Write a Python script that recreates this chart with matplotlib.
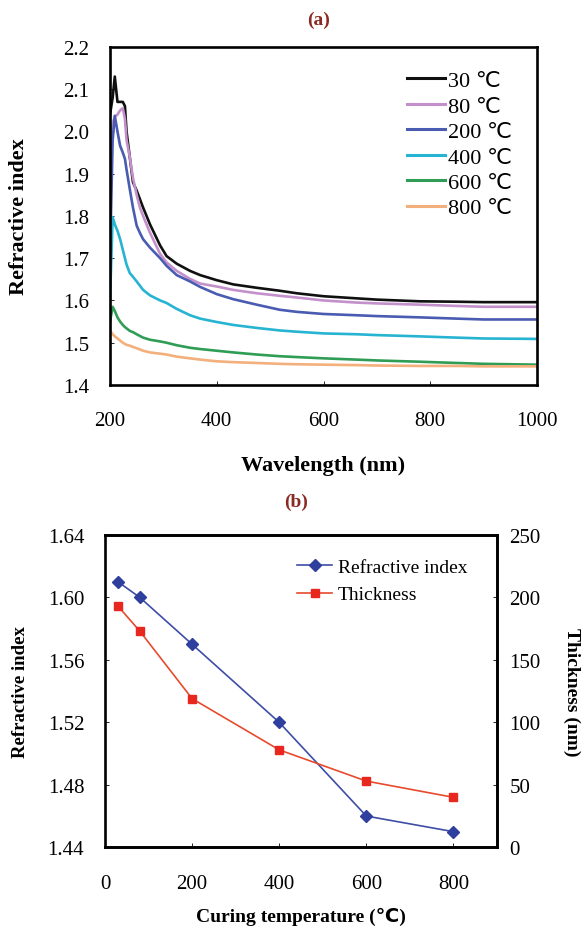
import matplotlib
matplotlib.use("Agg")
import matplotlib.pyplot as plt


# ============================================
# Refractive index of films vs. wavelength (a)
# and curing temperature effect (b)
# ============================================

# --- panel (a): dispersion curves ---
wavelength = [200, 205, 209, 214, 219, 224, 228, 231, 237, 243, 250, 256, 262,
              275, 294, 306, 325, 350, 369, 400, 431, 475, 518, 550, 600, 662,
              700, 780, 850, 900, 1000]

n_30 = [2.04, 2.08, 2.13, 2.07, 2.07, 2.07, 2.06, 2.00, 1.94, 1.88, 1.86, 1.84,
        1.82, 1.78, 1.73, 1.705, 1.687, 1.67, 1.66, 1.648, 1.638, 1.63, 1.623,
        1.617, 1.61, 1.605, 1.602, 1.598, 1.597, 1.596, 1.596]
n_80 = [1.98, 2.02, 2.035, 2.04, 2.05, 2.055, 2.03, 1.98, 1.94, 1.89, 1.85, 1.82,
        1.80, 1.76, 1.71, 1.69, 1.67, 1.651, 1.64, 1.633, 1.625, 1.617, 1.611,
        1.607, 1.60, 1.595, 1.593, 1.59, 1.587, 1.585, 1.585]
n_200 = [1.70, 1.98, 2.037, 2.00, 1.966, 1.95, 1.935, 1.91, 1.864, 1.82, 1.777,
         1.76, 1.745, 1.725, 1.70, 1.682, 1.66, 1.645, 1.632, 1.615, 1.603, 1.59,
         1.578, 1.573, 1.568, 1.565, 1.563, 1.56, 1.557, 1.555, 1.555]
n_400 = [1.60, 1.797, 1.78, 1.765, 1.745, 1.72, 1.70, 1.685, 1.665, 1.656, 1.645,
         1.635, 1.625, 1.612, 1.60, 1.594, 1.58, 1.565, 1.557, 1.549, 1.542,
         1.535, 1.529, 1.526, 1.522, 1.52, 1.518, 1.515, 1.512, 1.51, 1.509]
n_600 = [1.55, 1.585, 1.575, 1.56, 1.55, 1.542, 1.537, 1.534, 1.528, 1.525, 1.52,
         1.516, 1.512, 1.507, 1.503, 1.50, 1.494, 1.488, 1.485, 1.481, 1.477,
         1.472, 1.468, 1.466, 1.463, 1.46, 1.458, 1.455, 1.452, 1.45, 1.448]
n_800 = [1.529, 1.52, 1.515, 1.51, 1.505, 1.50, 1.497, 1.495, 1.493, 1.49, 1.487,
         1.484, 1.481, 1.477, 1.474, 1.472, 1.467, 1.463, 1.46, 1.456, 1.454,
         1.452, 1.45, 1.449, 1.448, 1.447, 1.446, 1.445, 1.445, 1.444, 1.444]

curve_labels = ["30 \u2103", "80 \u2103", "200 \u2103", "400 \u2103", "600 \u2103", "800 \u2103"]
curve_colors = ["#101010", "#c490cc", "#4a5bb2", "#27b4d2", "#2f9d55", "#f3b07c"]

# --- panel (b): vs curing temperature ---
curing_temp = [30, 80, 200, 400, 600, 800]
refr_index = [1.61, 1.60, 1.57, 1.52, 1.46, 1.45]
thickness = [193, 173, 119, 78, 53, 40]

SERIF = ["Liberation Serif", "DejaVu Sans"]
TITLE_COLOR = "#8b2a22"


def style_axes(ax, pad=15):
    for sp in ax.spines.values():
        sp.set_linewidth(1.9)
        sp.set_color("black")
    ax.tick_params(axis="y", direction="in", length=3, width=0.6, labelsize=15, pad=pad)
    ax.tick_params(axis="x", direction="in", length=3, width=0.6, labelsize=15, pad=19)
    for lab in ax.get_xticklabels() + ax.get_yticklabels():
        lab.set_family(SERIF)


def draw_panel_a(fig):
    ax = fig.add_axes([0.1877, 0.5841, 0.7287, 0.3642])
    all_n = [n_30, n_80, n_200, n_400, n_600, n_800]
    for vals, lab, col in zip(all_n, curve_labels, curve_colors):
        ax.plot(wavelength, vals, color=col, lw=1.9, label=lab)
    ax.set_xlim(200, 1000)
    ax.set_ylim(1.4, 2.2)
    ax.set_xticks([200, 400, 600, 800, 1000])
    ax.set_yticks([1.4, 1.5, 1.6, 1.7, 1.8, 1.9, 2.0, 2.1, 2.2])
    ax.set_yticklabels(["%.1f" % v for v in ax.get_yticks()])
    style_axes(ax)
    ax.set_xlabel("Wavelength (nm)", family=SERIF, fontsize=16, fontweight="bold")
    ax.xaxis.set_label_coords(0.5, -0.208)
    ax.set_ylabel("Refractive index", family=SERIF, fontsize=16, fontweight="bold")
    ax.yaxis.set_label_coords(-0.19, 0.5)
    leg = ax.legend(loc="upper left", bbox_to_anchor=(0.695, 0.93), frameon=False,
                    prop={"family": SERIF, "size": 16}, handlelength=1.7,
                    handletextpad=0.15, labelspacing=0.22, borderaxespad=0,
                    borderpad=0)
    for line in leg.get_lines():
        line.set_linewidth(2.2)
    fig.text(0.544, 0.978, "(a)", ha="center", va="center", family=SERIF,
             fontsize=14, fontweight="bold", color=TITLE_COLOR)


def draw_panel_b(fig):
    ax = fig.add_axes([0.1792, 0.0859, 0.6689, 0.3365])
    ax2 = ax.twinx()
    ax.plot(curing_temp, refr_index, color="#3e4ea6", lw=1.2, marker="D",
            ms=6, mfc="#2e3f9e", mec="#2e3f9e", label="Refractive index")
    ax2.plot(curing_temp, thickness, color="#e84a2e", lw=1.2, marker="s",
             ms=6, mfc="#e8281f", mec="#e8281f", label="Thickness")
    ax.set_xlim(0, 900)
    ax.set_ylim(1.44, 1.64)
    ax2.set_ylim(0, 250)
    ax.set_xticks([0, 200, 400, 600, 800])
    ax.set_yticks([1.44, 1.48, 1.52, 1.56, 1.60, 1.64])
    ax.set_yticklabels(["%.2f" % v for v in ax.get_yticks()])
    ax2.set_yticks([0, 50, 100, 150, 200, 250])
    style_axes(ax)
    style_axes(ax2, pad=9)
    ax2.spines["left"].set_visible(False)
    ax.set_xlabel("Curing temperature (\u2103)", family=SERIF, fontsize=14,
                  fontweight="bold")
    ax.xaxis.set_label_coords(0.5, -0.19)
    ax.set_ylabel("Refractive index", family=SERIF, fontsize=13.5, fontweight="bold")
    ax.yaxis.set_label_coords(-0.195, 0.5)
    ax2.set_ylabel("Thickness (nm)", family=SERIF, fontsize=14, fontweight="bold",
                   rotation=270, va="center")
    ax2.yaxis.set_label_coords(1.19, 0.5)
    h1, l1 = ax.get_legend_handles_labels()
    h2, l2 = ax2.get_legend_handles_labels()
    ax.legend(h1 + h2, l1 + l2, loc="upper left", bbox_to_anchor=(0.49, 0.925),
              frameon=False, prop={"family": SERIF, "size": 14}, handlelength=1.8,
              handletextpad=0.3, labelspacing=0.5, borderaxespad=0, borderpad=0)
    fig.text(0.505, 0.459, "(b)", ha="center", va="center", family=SERIF,
             fontsize=14, fontweight="bold", color=TITLE_COLOR)


def main() -> None:
    fig = plt.figure(figsize=(5.86, 9.28), dpi=100)
    draw_panel_a(fig)
    draw_panel_b(fig)
    fig.savefig("out.png", dpi=100)


if __name__ == "__main__":
    main()
